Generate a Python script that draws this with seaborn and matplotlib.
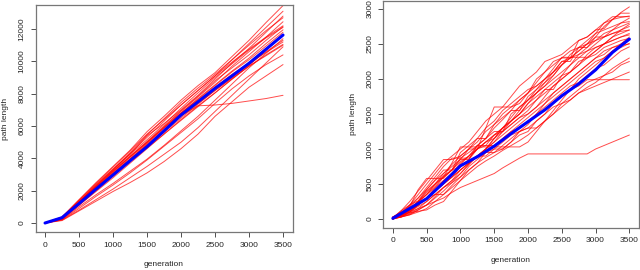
import matplotlib
matplotlib.use("Agg")
import matplotlib.pyplot as plt
import seaborn as sns
import pandas as pd

sns.set_style("white")
plt.rcParams['font.family'] = ['Liberation Sans', 'DejaVu Sans']

gens_left = [0, 250, 500, 750, 1000, 1250, 1500, 1750, 2000, 2250, 2500, 2750, 3000, 3250, 3500]
gens_right = [0, 125, 250, 375, 500, 625, 750, 875, 1000, 1125, 1250, 1375, 1500, 1625, 1750,
              1875, 2000, 2125, 2250, 2375, 2500, 2625, 2750, 2875, 3000, 3125, 3250, 3375, 3500]

# Left panel: path length per run
left_runs = [
    [0, 380, 1450, 2500, 3500, 4500, 5650, 6600, 7600, 8500, 9300, 10300, 11300, 12400, 13450],
    [0, 300, 1300, 2350, 3300, 4300, 5300, 6300, 7300, 8200, 9100, 10100, 11100, 12100, 13100],
    [0, 350, 1400, 2400, 3350, 4250, 5400, 6150, 7000, 7900, 8900, 9900, 10800, 11800, 12800],
    [0, 280, 1250, 2200, 3150, 4100, 5000, 5950, 6900, 7800, 8700, 9700, 10600, 11500, 12450],
    [0, 320, 1350, 2250, 3200, 4150, 5050, 6000, 6950, 7850, 8800, 9600, 10400, 11300, 12150],
    [0, 300, 1250, 2200, 3100, 4050, 4950, 5900, 6800, 7700, 8550, 9400, 10200, 11100, 11950],
    [0, 260, 1150, 2050, 3000, 3950, 4900, 5850, 6800, 7650, 8500, 9350, 10100, 10950, 11800],
    [0, 330, 1300, 2250, 3200, 4100, 5000, 5900, 6800, 7600, 8400, 9200, 9900, 10550, 11200],
    [0, 290, 1200, 2150, 3050, 3950, 4800, 5700, 6600, 7400, 8200, 8950, 9700, 10400, 11050],
    [0, 250, 1100, 1950, 2800, 3700, 4600, 5500, 6400, 7250, 8050, 8900, 9700, 10350, 11000],
    [0, 200, 900, 1650, 2350, 3100, 3900, 4750, 5600, 6450, 7400, 8300, 9100, 9800, 10400],
    [0, 150, 750, 1350, 1950, 2500, 3100, 3800, 4600, 5500, 6600, 7500, 8400, 9100, 9800],
    [0, 300, 1250, 2150, 3050, 3950, 4850, 5750, 6650, 7250, 7300, 7400, 7550, 7700, 7900],
    [0, 220, 1000, 1750, 2450, 3200, 3950, 4800, 5700, 6600, 7600, 8600, 9600, 10500, 11400],
    [0, 180, 800, 1450, 2100, 2800, 3500, 4250, 5000, 5900, 6900, 7900, 8900, 9900, 10900],
    [0, 350, 1400, 2450, 3450, 4450, 5500, 6400, 7300, 8200, 9100, 9950, 10750, 11500, 12200],
    [0, 300, 1300, 2300, 3300, 4350, 5450, 6450, 7450, 8350, 9200, 10100, 11000, 11900, 12700],
    [0, 280, 1200, 2100, 3000, 3900, 4750, 5600, 6500, 7350, 8200, 9000, 9800, 10600, 11300],
    [0, 240, 1100, 2000, 2900, 3800, 4650, 5500, 6350, 7200, 8050, 8900, 9750, 10700, 11600],
    [0, 320, 1300, 2300, 3250, 4250, 5150, 6100, 7100, 8050, 9000, 9850, 10700, 11450, 12100],
]
left_mean = [0, 330, 1200, 2100, 2970, 3850, 4720, 5700, 6680, 7500, 8330, 9100, 9880, 10750, 11630]

# Right panel: path length per run
right_runs = [
    [20, 60, 200, 260, 420, 560, 700, 700, 950, 1050, 1150, 1150, 1350, 1500, 1600, 1650, 1800, 2000, 2100, 2250, 2300, 2300, 2550, 2600, 2700, 2720, 2850, 2950, 3030],
    [30, 80, 150, 230, 350, 480, 600, 700, 850, 850, 1050, 1150, 1300, 1420, 1550, 1550, 1750, 1850, 1950, 2050, 2200, 2350, 2450, 2450, 2600, 2750, 2850, 2940, 2940],
    [10, 30, 100, 200, 300, 420, 550, 650, 800, 900, 1050, 1150, 1250, 1250, 1500, 1600, 1700, 1800, 1950, 2100, 2250, 2250, 2450, 2550, 2650, 2800, 2890, 2890, 2890],
    [0, 90, 180, 420, 580, 580, 580, 700, 870, 950, 1050, 1050, 1200, 1300, 1400, 1500, 1650, 1750, 1850, 1850, 2050, 2200, 2350, 2450, 2550, 2650, 2700, 2800, 2870],
    [20, 50, 120, 250, 380, 500, 620, 700, 820, 900, 1000, 1300, 1600, 1600, 1600, 1700, 1800, 1900, 2000, 2100, 2250, 2300, 2400, 2500, 2600, 2600, 2700, 2750, 2800],
    [10, 120, 200, 300, 450, 600, 750, 870, 870, 870, 1000, 1100, 1150, 1300, 1450, 1600, 1700, 1800, 1900, 2000, 2100, 2200, 2300, 2400, 2500, 2600, 2650, 2700, 2750],
    [30, 70, 130, 200, 300, 400, 500, 600, 750, 850, 1000, 1100, 1200, 1250, 1350, 1450, 1550, 1700, 1800, 1900, 2000, 2100, 2200, 2350, 2450, 2500, 2600, 2650, 2700],
    [0, 40, 80, 150, 250, 350, 450, 550, 700, 800, 900, 1000, 1100, 1200, 1300, 1400, 1500, 1600, 1750, 1900, 2000, 2100, 2250, 2300, 2400, 2500, 2550, 2600, 2630],
    [20, 90, 160, 250, 350, 500, 650, 750, 850, 1000, 1000, 1050, 1050, 1150, 1250, 1300, 1400, 1500, 1650, 1800, 1900, 2000, 2100, 2200, 2300, 2350, 2450, 2500, 2580],
    [10, 50, 100, 180, 250, 350, 450, 520, 600, 700, 800, 950, 1050, 1150, 1250, 1350, 1450, 1550, 1650, 1750, 1850, 1950, 2050, 2150, 2250, 2300, 2400, 2450, 2510],
    [0, 80, 150, 220, 300, 350, 350, 480, 600, 750, 850, 950, 1000, 1000, 1100, 1250, 1350, 1500, 1600, 1700, 1800, 1900, 1950, 2050, 2150, 2200, 2300, 2400, 2460],
    [10, 40, 90, 110, 130, 200, 250, 400, 550, 700, 800, 880, 950, 1050, 1150, 1250, 1300, 1400, 1500, 1600, 1650, 1750, 1850, 1950, 2000, 2050, 2100, 2200, 2250],
    [30, 80, 140, 250, 400, 500, 600, 700, 750, 830, 900, 900, 1000, 1100, 1200, 1250, 1300, 1300, 1400, 1500, 1600, 1700, 1800, 1850, 1900, 1950, 2000, 2050, 2100],
    [0, 30, 70, 130, 200, 320, 450, 550, 650, 780, 900, 950, 950, 1000, 1100, 1200, 1250, 1400, 1500, 1650, 1750, 1850, 1900, 1990, 1990, 1990, 1990, 1990, 1990],
    [0, 30, 60, 130, 200, 250, 300, 380, 450, 500, 550, 600, 650, 730, 800, 870, 930, 930, 930, 930, 930, 930, 930, 930, 1000, 1050, 1100, 1150, 1200],
    [20, 120, 250, 400, 550, 700, 850, 850, 900, 1000, 1100, 1250, 1350, 1450, 1550, 1700, 1800, 1950, 2100, 2200, 2300, 2400, 2450, 2500, 2550, 2600, 2650, 2680, 2700],
    [10, 60, 120, 200, 300, 400, 500, 600, 700, 800, 900, 1000, 1150, 1300, 1400, 1500, 1650, 1800, 1900, 2050, 2200, 2300, 2400, 2500, 2650, 2700, 2750, 2800, 2820],
    [20, 60, 100, 150, 200, 300, 400, 520, 650, 780, 900, 1000, 1150, 1250, 1350, 1450, 1500, 1600, 1700, 1800, 1900, 2000, 2100, 2200, 2300, 2400, 2450, 2480, 2500],
    [0, 30, 60, 100, 150, 250, 350, 450, 550, 650, 750, 830, 900, 980, 1050, 1120, 1200, 1300, 1400, 1500, 1650, 1700, 1800, 1880, 1950, 2050, 2150, 2230, 2300],
    [30, 100, 170, 300, 420, 550, 650, 780, 900, 1000, 1150, 1300, 1400, 1550, 1650, 1750, 1850, 1900, 2000, 2100, 2200, 2300, 2350, 2400, 2450, 2500, 2550, 2600, 2650],
    [10, 100, 200, 350, 500, 650, 800, 900, 1000, 1100, 1250, 1400, 1500, 1600, 1750, 1900, 2000, 2100, 2250, 2300, 2350, 2450, 2550, 2600, 2700, 2800, 2850, 2880, 2900],
    [20, 70, 120, 250, 350, 450, 550, 650, 780, 900, 1000, 1100, 1200, 1300, 1400, 1500, 1600, 1700, 1850, 1950, 2050, 2100, 2200, 2300, 2350, 2450, 2500, 2550, 2580],
    [0, 50, 100, 200, 300, 450, 600, 800, 1030, 1030, 1030, 1030, 1030, 1030, 1030, 1030, 1100, 1250, 1400, 1550, 1700, 1850, 2000, 2100, 2200, 2300, 2400, 2500, 2600],
    [10, 60, 120, 200, 300, 400, 500, 600, 700, 800, 900, 1000, 1100, 1250, 1400, 1550, 1700, 1850, 2000, 2150, 2310, 2310, 2310, 2310, 2400, 2500, 2600, 2700, 2780],
]
right_mean = [10, 150, 290, 520, 760, 890, 1040, 1220, 1390, 1560, 1760, 1930, 2130, 2380, 2570]

left_yticks = [0, 2000, 4000, 6000, 8000, 10000, 12000]
right_yticks = [0, 500, 1000, 1500, 2000, 2500, 3000]
xticks = [0, 500, 1000, 1500, 2000, 2500, 3000, 3500]


def long_df(runs, gens):
    rows = []
    for i, r in enumerate(runs):
        for g, v in zip(gens, r):
            rows.append((i, g, v))
    return pd.DataFrame(rows, columns=["run", "generation", "path length"])


fig = plt.figure(figsize=(6.4, 2.7), dpi=100)
axL = fig.add_axes([0.0555, 0.1407, 0.4016, 0.8407])
axR = fig.add_axes([0.599, 0.1574, 0.3992, 0.8407])

for ax, runs, gens, mean, yt, ylim in [
    (axL, left_runs, gens_left, left_mean, left_yticks, (-557, 13485)),
    (axR, right_runs, gens_right, right_mean, right_yticks, (-121, 3121)),
]:
    df = long_df(runs, gens)
    sns.lineplot(data=df, x="generation", y="path length", units="run",
                 estimator=None, color="#ff0000", lw=0.7, alpha=0.7, ax=ax)
    mdf = pd.DataFrame({"generation": gens_left, "path length": mean})
    sns.lineplot(data=mdf, x="generation", y="path length", color="#0000ff",
                 lw=2.2, ax=ax)
    ax.set_xlim(-140, 3640)
    ax.set_ylim(*ylim)
    ax.set_xticks(xticks)
    ax.set_yticks(yt)
    ax.set_xticklabels([str(t) for t in xticks], fontsize=6)
    ax.set_yticklabels([str(t) for t in yt], fontsize=6, rotation=90, va="center")
    ax.tick_params(axis="both", direction="out", length=3.5, width=0.6,
                   color="#333333", pad=3.5, left=True, bottom=True)
    for s in ax.spines.values():
        s.set_visible(True)
        s.set_color("#777777")
        s.set_linewidth(0.9)
    ax.set_xlabel("generation", fontsize=6, labelpad=9)
    ax.set_ylabel("path length", fontsize=6, labelpad=7)
    ax.grid(False)

fig.savefig("out.png", dpi=100)
